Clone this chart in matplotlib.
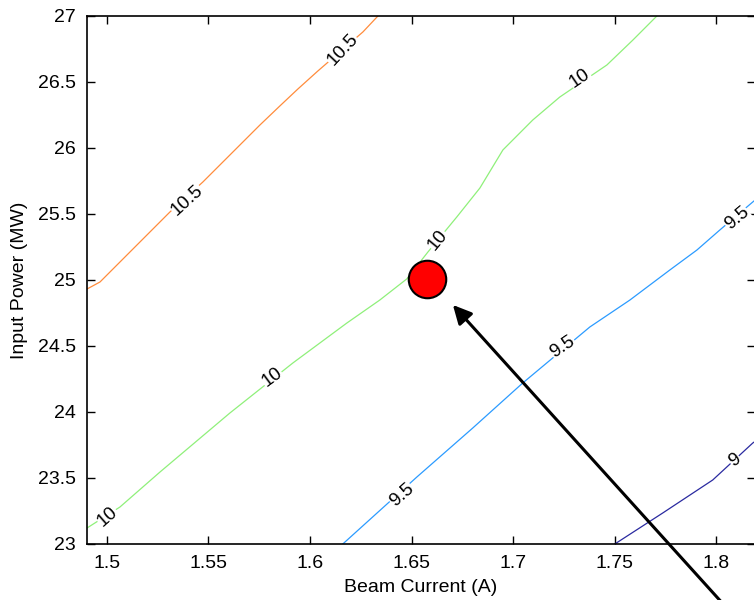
import numpy as np
import matplotlib
matplotlib.use("Agg")
import matplotlib.pyplot as plt

plt.rcParams['font.family'] = ['Liberation Sans', 'DejaVu Sans']

# contour levels of output power (MW) over beam current / input power
level_105_I = [1.4900, 1.4966, 1.5310, 1.5472, 1.5753, 1.5851, 1.5940, 1.6038, 1.6260, 1.6334]
level_105_P = [24.930, 24.985, 25.515, 25.742, 26.174, 26.318, 26.447, 26.583, 26.879, 27.000]

level_10_I = [1.4902, 1.5064, 1.5261, 1.5605, 1.5915, 1.6181, 1.6343, 1.6476, 1.6580,
              1.6722, 1.6836, 1.6949, 1.7096, 1.7229, 1.7461, 1.7589, 1.7707]
level_10_P = [23.121, 23.280, 23.545, 23.992, 24.371, 24.674, 24.848, 25.008, 25.212,
              25.477, 25.697, 25.985, 26.212, 26.386, 26.629, 26.818, 27.000]

level_95_I = [1.6161, 1.6526, 1.6801, 1.7047, 1.7377, 1.7574, 1.7771, 1.7904, 1.8017, 1.8179, 1.8214]
level_95_P = [23.000, 23.508, 23.879, 24.220, 24.644, 24.848, 25.076, 25.227, 25.379, 25.591, 25.636]

level_9_I = [1.7500, 1.7736, 1.7982, 1.8179, 1.8214]
level_9_P = [23.000, 23.235, 23.485, 23.765, 23.803]

level_11_I = [1.4902, 1.4906]
level_11_P = [26.990, 27.000]

# inline label positions (current, power)
labels_105 = [(1.5394, 25.606), (1.6161, 26.742)]
labels_10 = [(1.5005, 23.205), (1.5812, 24.265), (1.6629, 25.303), (1.7328, 26.530)]
labels_95 = [(1.6452, 23.371), (1.7244, 24.492), (1.8100, 25.470)]
labels_9 = [(1.8091, 23.636)]

# operating point and pointer
op_current, op_power = 1.6575, 25.008
arrow_tip = (1.6703, 24.811)
arrow_tail = (1.806, 22.50)

x_ticks = [1.5, 1.55, 1.6, 1.65, 1.7, 1.75, 1.8]
x_ticklabels = ['1.5', '1.55', '1.6', '1.65', '1.7', '1.75', '1.8']
y_ticks = [23, 23.5, 24, 24.5, 25, 25.5, 26, 26.5, 27]
y_ticklabels = ['23', '23.5', '24', '24.5', '25', '25.5', '26', '26.5', '27']

fig = plt.figure(figsize=(7.54, 6.0), dpi=100)
ax = fig.add_axes([87 / 754, 56 / 600, 668 / 754, 528 / 600])
ax.set_xlim(1.4902, 1.819)
ax.set_ylim(23, 27)

contours = [
    (level_11_I, level_11_P, '#8b0000', None, ''),
    (level_105_I, level_105_P, '#ff8c3c', labels_105, '10.5'),
    (level_10_I, level_10_P, '#8ff07a', labels_10, '10'),
    (level_95_I, level_95_P, '#2b9bff', labels_95, '9.5'),
    (level_9_I, level_9_P, '#2a2aa0', labels_9, '9'),
]


def label_angle(xs, ys, x0, y0):
    pts = ax.transData.transform(np.column_stack([xs, ys]))
    p0 = ax.transData.transform((x0, y0))
    d = np.hypot(pts[:, 0] - p0[0], pts[:, 1] - p0[1])
    i = int(np.argmin(d))
    i = min(i, len(xs) - 2)
    j = i + 1
    dx = pts[j, 0] - pts[i, 0]
    dy = pts[j, 1] - pts[i, 1]
    return np.degrees(np.arctan2(dy, dx))


for xs, ys, col, labs, txt in contours:
    ax.plot(xs, ys, color=col, lw=0.9, zorder=2)
    if labs:
        for lx, ly in labs:
            ang = label_angle(xs, ys, lx, ly)
            ax.text(lx, ly, txt, rotation=ang, rotation_mode='anchor',
                    ha='center', va='center', fontsize=13.5, color='black',
                    bbox=dict(facecolor='white', edgecolor='none', pad=0.3),
                    zorder=3)

ax.plot([op_current], [op_power], 'o', markersize=27, markerfacecolor='red',
        markeredgecolor='black', markeredgewidth=1.5, zorder=5)

ax.annotate('', xy=arrow_tip, xytext=arrow_tail, annotation_clip=False,
            arrowprops=dict(arrowstyle='-|>', lw=2.2, color='black',
                            mutation_scale=28, shrinkA=0, shrinkB=0),
            zorder=6)

ax.set_xticks(x_ticks)
ax.set_xticklabels(x_ticklabels)
ax.set_yticks(y_ticks)
ax.set_yticklabels(y_ticklabels)
ax.tick_params(direction='in', top=True, right=True, length=6, width=1,
               labelsize=14, pad=8, colors='black')
for sp in ax.spines.values():
    sp.set_linewidth(1.2)

ax.set_xlabel('Beam Current (A)', fontsize=14, labelpad=5)
ax.set_ylabel('Input Power (MW)', fontsize=14, labelpad=7)

fig.savefig('out.png', dpi=100)
